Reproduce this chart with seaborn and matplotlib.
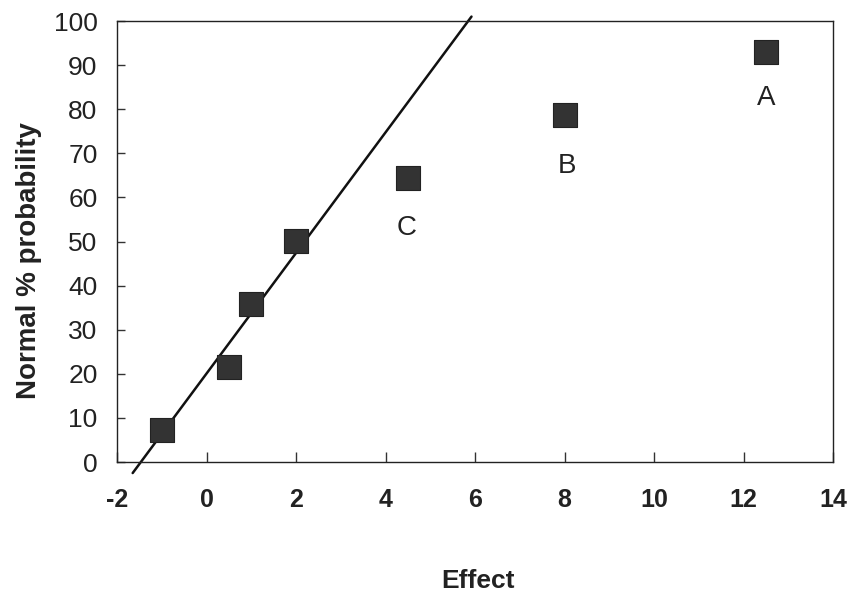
import matplotlib
matplotlib.use("Agg")
import matplotlib.pyplot as plt
import pandas as pd
import seaborn as sns

# effects
effect = [-1.0, 0.5, 1.0, 2.0, 4.5, 8.0, 12.5]
probability = [7.3, 21.5, 35.8, 50.1, 64.4, 78.7, 93.0]

# labelled (significant) effects
label_text = ["C", "B", "A"]
label_x = [4.47, 8.05, 12.5]
label_y = [53.0, 67.1, 82.5]

# straight reference line through the small effects
line_x = [-1.65, 5.92]
line_y = [-2.5, 101.0]

points = pd.DataFrame({"Effect": effect, "Prob": probability})
line = pd.DataFrame({"Effect": line_x, "Prob": line_y})

sns.set_theme(style="white")
plt.rcParams["font.family"] = ["Liberation Sans", "DejaVu Sans"]
plt.rcParams["axes.unicode_minus"] = False

fig = plt.figure(figsize=(8.51, 5.95), dpi=100)
ax = fig.add_axes([0.1375, 0.2235, 0.8415, 0.7412])

sns.lineplot(data=line, x="Effect", y="Prob", ax=ax, color="#111111",
             linewidth=1.8, clip_on=False)
sns.scatterplot(data=points, x="Effect", y="Prob", ax=ax, marker="s", s=280,
                color="#333333", edgecolor="#222222", linewidth=0.8, zorder=3)

for t, x, y in zip(label_text, label_x, label_y):
    ax.text(x, y, t, fontsize=20, ha="center", va="center", color="#222222")

ax.set_xlim(-2, 14)
ax.set_ylim(0, 100)
ax.set_xticks(range(-2, 15, 2))
ax.set_yticks(range(0, 101, 10))

# seaborn's white style hides the ticks; the original has short inward ticks
ax.tick_params(axis="x", bottom=True, direction="in", length=7, width=1,
               color="#333333", pad=19, labelsize=18)
ax.tick_params(axis="y", left=True, direction="in", length=6, width=1,
               color="#333333", pad=14, labelsize=19)
for lab in ax.get_xticklabels():
    lab.set_fontweight("bold")
    lab.set_color("#222222")
for lab in ax.get_yticklabels():
    lab.set_color("#222222")

for sp in ax.spines.values():
    sp.set_visible(True)
    sp.set_color("#222222")
    sp.set_linewidth(1.0)

ax.set_xlabel("Effect", fontsize=19, fontweight="bold", color="#222222")
ax.set_ylabel("Normal % probability", fontsize=20, fontweight="bold",
              color="#222222")
ax.xaxis.set_label_coords(0.504, -0.243)
ax.yaxis.set_label_coords(-0.105, 0.456)

fig.savefig("out.png", dpi=100)
